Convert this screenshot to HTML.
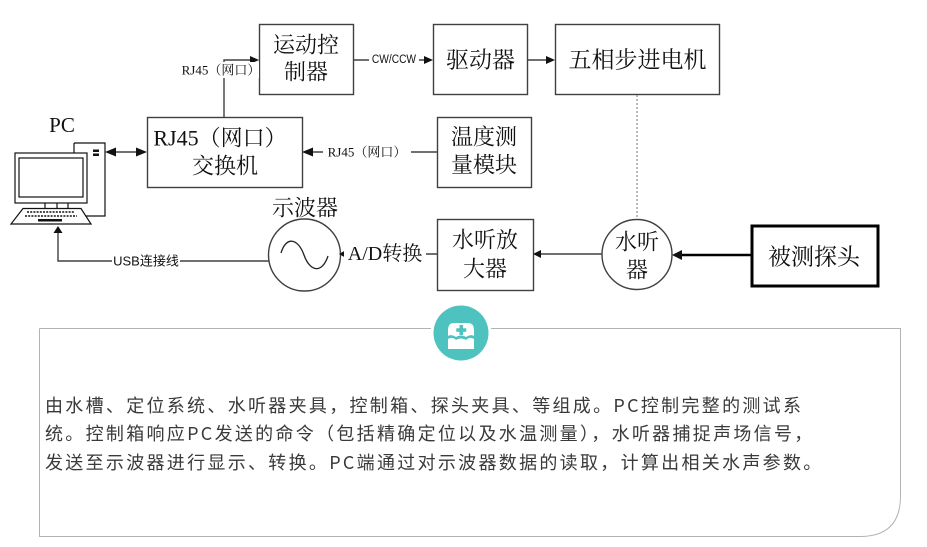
<!DOCTYPE html>
<html><head><meta charset="utf-8">
<style>
html,body{margin:0;padding:0;background:#fff;}
body{width:927px;height:547px;position:relative;overflow:hidden;}
svg{position:absolute;left:0;top:0;}
.pt{position:absolute;left:45px;white-space:nowrap;font-family:"Noto Sans CJK SC","Liberation Sans",sans-serif;font-size:18px;letter-spacing:2.3px;color:#3a3a3a;line-height:20px;}
</style></head>
<body>
<svg width="927" height="547" viewBox="0 0 927 547" xmlns="http://www.w3.org/2000/svg">
<g fill="none" stroke="#404040" stroke-width="1.4">
  <!-- boxes -->
  <rect x="259.5" y="24.5" width="94" height="70"/>
  <rect x="433.5" y="24.5" width="94" height="70"/>
  <rect x="555.5" y="24.5" width="164" height="70"/>
  <rect x="147.5" y="117.5" width="155" height="70"/>
  <rect x="437.5" y="117.5" width="94" height="70"/>
  <rect x="437.5" y="219.5" width="96" height="71"/>
  <circle cx="304.5" cy="255" r="36"/>
  <circle cx="637" cy="254.5" r="35"/>
  <path d="M281,253 C286,236 298,238 304,255 C310,272 322,274 328,256" stroke="#222" stroke-width="1.3"/>
  <!-- connectors -->
  <polyline points="224,117 224,60 252,60"/>
  <line x1="353" y1="60" x2="426" y2="60"/>
  <line x1="527" y1="60" x2="548" y2="60"/>
  <line x1="112" y1="152" x2="140" y2="152"/>
  <line x1="437" y1="152" x2="310" y2="152"/>
  <polyline points="58,233 58,261 269,261"/>
  <line x1="437" y1="254" x2="346" y2="254"/>
  <line x1="602" y1="254" x2="540" y2="254"/>
  <line x1="637" y1="95" x2="637" y2="219" stroke="#888" stroke-width="1.2" stroke-dasharray="2,2"/>
</g>
<line x1="751" y1="255" x2="680" y2="255" stroke="#000" stroke-width="2.5"/>
<rect x="752" y="226" width="126" height="60" fill="none" stroke="#000" stroke-width="3"/>
<!-- arrowheads -->
<g fill="#111">
  <polygon points="259,60 250,56 250,64"/>
  <polygon points="433,60 424,56 424,64"/>
  <polygon points="555,60 546,56 546,64"/>
  <polygon points="105,152 116,147.5 116,156.5"/>
  <polygon points="147,152 136,147.5 136,156.5"/>
  <polygon points="302,152 313,147.5 313,156.5"/>
  <polygon points="58,226 53.5,233 62.5,233"/>
  <polygon points="339,254 346,250 346,258"/>
  <polygon points="533,254 541,250 541,258"/>
  <polygon points="672,255 682,250 682,260"/>
</g>
<!-- PC icon -->
<g stroke="#111" stroke-width="1.2" fill="#fff">
  <polyline points="74,143 105,143 105,216 83,216" />
  <line x1="74" y1="143" x2="74" y2="153"/>
  <rect x="15" y="153" width="72" height="50"/>
  <rect x="19" y="158" width="64" height="39"/>
  <line x1="45" y1="203" x2="45" y2="209"/>
  <line x1="57" y1="203" x2="57" y2="209"/>
  <line x1="68" y1="203" x2="68" y2="209"/>
  <polygon points="23,208.5 81,208.5 91,224 11,224"/>
</g>
<g fill="#111">
  <rect x="93" y="149.5" width="6" height="2.5"/>
  <rect x="93" y="153.5" width="6" height="2.5"/>
  <rect x="38" y="219" width="24" height="2.5"/>
</g>
<g stroke="#111" stroke-width="1.6" stroke-dasharray="2,1.2">
  <line x1="27" y1="212" x2="75" y2="212"/>
  <line x1="25" y1="216" x2="77" y2="216"/>
</g>
<!-- labels with white bg -->
<rect x="181" y="62" width="78" height="16" fill="#fff"/>
<rect x="323" y="144" width="88" height="16" fill="#fff"/>
<rect x="369" y="53" width="50" height="14" fill="#fff"/>
<rect x="112" y="253" width="68" height="16" fill="#fff"/>
<rect x="344" y="244" width="82" height="20" fill="#fff"/>
<g font-family="Liberation Serif, 'Noto Serif CJK SC', serif" fill="#111" text-anchor="middle" dominant-baseline="central">
  <text x="306" y="45" font-size="22">运动控</text>
  <text x="306" y="72" font-size="22">制器</text>
  <text x="480.5" y="60" font-size="23">驱动器</text>
  <text x="637.5" y="60" font-size="23">五相步进电机</text>
  <text x="220" y="138" font-size="22">RJ45（网口）</text>
  <text x="225" y="166" font-size="22">交换机</text>
  <text x="484" y="137" font-size="22">温度测</text>
  <text x="484" y="165" font-size="22">量模块</text>
  <text x="485" y="240" font-size="22">水听放</text>
  <text x="485" y="269" font-size="22">大器</text>
  <text x="637" y="242" font-size="22">水听</text>
  <text x="637" y="270" font-size="22">器</text>
  <text x="814" y="257" font-size="23">被测探头</text>
  <text x="305" y="208" font-size="22">示波器</text>
  <text x="62" y="125" font-size="21">PC</text>
  <text x="221" y="70" font-size="13">RJ45（网口）</text>
  <text x="367" y="152" font-size="13">RJ45（网口）</text>
  <text x="385" y="254" font-size="20">A/D转换</text>
</g>
<g font-family="Liberation Sans, 'Noto Sans CJK SC', sans-serif" fill="#111" text-anchor="middle" dominant-baseline="central">
  <text x="394" y="60" font-size="12" transform="translate(394,0) scale(0.85,1) translate(-394,0)">CW/CCW</text>
  <text x="146" y="261" font-size="13">USB连接线</text>
</g>
<!-- panel -->
<path d="M39.5,328.5 L39.5,536.5 L860,536.5 Q900.5,536.5 900.5,496 L900.5,328.5 L491,328.5 M431,328.5 L39.5,328.5" fill="none" stroke="#b3b3b3" stroke-width="1"/>
<circle cx="461" cy="333" r="27.5" fill="#4dc2bf"/>
<path d="M448,331 C448,325 450,323 454,323 L468,323 C472,323 474,325 474,331 L474,336 C471,334 468,336 466,337 C463,335 459,335 456,337 C454,336 451,334 448,336 Z" fill="#fff"/>
<path d="M448,339 C451,337 454,338 456,340 C459,338 463,338 466,340 C468,338 471,337 474,339 L474,349 L448,349 Z" fill="#fff"/>
<rect x="459.5" y="325" width="3.5" height="10" fill="#4dc2bf"/>
<rect x="456.3" y="328.3" width="10" height="3.5" fill="#4dc2bf"/>
</svg>
<div class="pt" style="top:395px;">由水槽、定位系统、水听器夹具，控制箱、探头夹具、等组成。PC控制完整的测试系</div>
<div class="pt" style="top:423px;">统。控制箱响应PC发送的命令（包括精确定位以及水温测量），水听器捕捉声场信号，</div>
<div class="pt" style="top:452px;">发送至示波器进行显示、转换。PC端通过对示波器数据的读取，计算出相关水声参数。</div>
</body></html>
